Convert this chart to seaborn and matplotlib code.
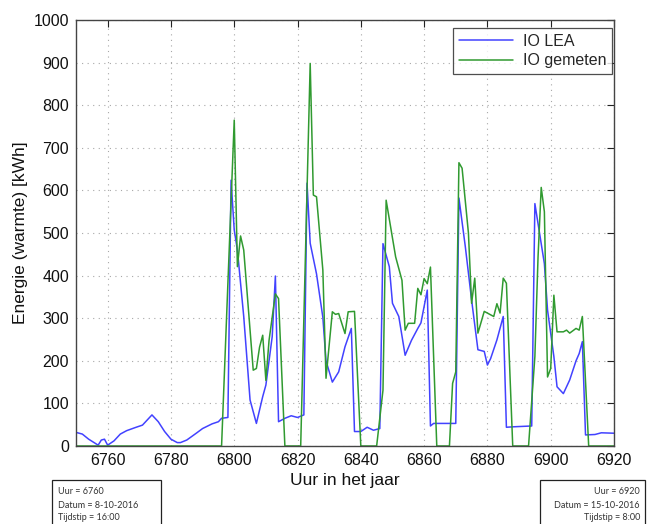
import numpy as np
import pandas as pd
import matplotlib
matplotlib.use("Agg")
import matplotlib.pyplot as plt
import seaborn as sns

# ---- data ----
lea_hours = [6750, 6752, 6754, 6757, 6758, 6759, 6760, 6762, 6764, 6766, 6769, 6771, 6774, 6776,
             6778, 6780, 6782, 6783, 6785, 6788, 6790, 6793, 6795, 6796, 6798,
             6799, 6800, 6801, 6803, 6805, 6807, 6809, 6810, 6812, 6813, 6814, 6816, 6818, 6820, 6822,
             6823, 6824, 6826, 6828, 6829, 6831, 6833, 6835, 6837, 6838, 6840, 6842, 6844, 6846,
             6847, 6849, 6850, 6852, 6854, 6856, 6858, 6859, 6861, 6862, 6863, 6870,
             6871, 6873, 6875, 6877, 6879, 6880, 6881, 6883, 6885, 6886, 6888, 6894,
             6895, 6897, 6898, 6899, 6901, 6902, 6904, 6906, 6908, 6909, 6910, 6911, 6914, 6916, 6920]
lea_values = [32, 28, 16, 2, 14, 16, 2, 12, 28, 36, 44, 49, 73, 57,
              34, 16, 8, 8, 14, 30, 41, 52, 57, 65, 67,
              624, 507, 460, 304, 108, 53, 116, 143, 257, 399, 57, 65, 71, 67, 73,
              617, 476, 404, 302, 200, 150, 174, 233, 276, 34, 34, 44, 37, 41,
              475, 421, 335, 304, 213, 248, 276, 289, 366, 47, 53, 53,
              582, 469, 343, 226, 222, 190, 205, 249, 304, 44, 45, 47,
              569, 475, 428, 319, 210, 139, 123, 155, 200, 217, 245, 26, 27, 31, 30]

gem_hours = [6750, 6796, 6800, 6801, 6802, 6803, 6804, 6806, 6807, 6808, 6809, 6810, 6811, 6813, 6814,
             6816, 6821, 6824, 6825, 6826, 6828, 6829, 6831, 6832, 6833, 6835, 6836, 6838, 6840,
             6845, 6847, 6848, 6851, 6853, 6854, 6855, 6857, 6858, 6859, 6860, 6861, 6862, 6864,
             6868, 6869, 6870, 6871, 6872, 6874, 6875, 6876, 6877, 6879, 6881, 6882, 6883, 6884, 6885, 6886, 6888,
             6893, 6895, 6896, 6897, 6898, 6899, 6900, 6901, 6902, 6904, 6905, 6906, 6908, 6909, 6910, 6912, 6920]
gem_values = [0, 0, 765, 421, 493, 460, 366, 178, 182, 232, 260, 154, 248, 357, 346,
              0, 0, 898, 589, 585, 413, 159, 315, 309, 311, 264, 315, 316, 0,
              0, 131, 577, 444, 389, 272, 288, 288, 370, 355, 393, 381, 420, 0,
              0, 147, 174, 665, 652, 500, 335, 394, 265, 316, 308, 304, 334, 312, 394, 382, 0,
              0, 210, 444, 607, 550, 162, 182, 354, 268, 268, 272, 265, 276, 272, 304, 0, 0]

series_names = ["IO LEA", "IO gemeten"]
x_ticks = list(range(6760, 6921, 20))
y_ticks = list(range(0, 1001, 100))

left_note = ["Uur = 6760", "Datum = 8-10-2016", "Tijdstip = 16:00"]
right_note = ["Uur = 6920", "Datum = 15-10-2016", "Tijdstip = 8:00"]

# ---- build table ----
df = pd.concat([
    pd.DataFrame({"uur": lea_hours, "energie": lea_values, "reeks": series_names[0]}),
    pd.DataFrame({"uur": gem_hours, "energie": gem_values, "reeks": series_names[1]}),
], ignore_index=True)

sns.set_style("white")
plt.rcParams["font.family"] = ["Liberation Sans", "DejaVu Sans"]

fig = plt.figure(figsize=(6.47, 5.24), dpi=100)
ax = fig.add_axes([76 / 647, 78 / 524, 538 / 647, 426 / 524])

palette = {series_names[0]: "#4242ff", series_names[1]: "#309a30"}
sns.lineplot(data=df, x="uur", y="energie", hue="reeks", palette=palette,
             sort=False, estimator=None, linewidth=1.1, ax=ax)

ax.set_xlim(6750, 6920)
ax.set_ylim(0, 1000)
ax.set_xticks(x_ticks)
ax.set_yticks(y_ticks)
ax.grid(True, linestyle=(0, (1, 4)), color="#a8a8a8", linewidth=0.8)
ax.tick_params(direction="in", length=5, width=0.8, top=True, right=True,
               labelsize=11.5, colors="#222222", pad=5)
ax.tick_params(axis="both", labelcolor="#111111")
for s in ax.spines.values():
    s.set_color("#444444")
    s.set_linewidth(1.0)
    s.set_visible(True)

ax.set_xlabel("Uur in het jaar", fontsize=12.5, color="#111111", labelpad=4)
ax.set_ylabel("Energie (warmte) [kWh]", fontsize=12.5, color="#111111", labelpad=4)

leg = ax.legend(loc="upper right", bbox_to_anchor=(0.996, 0.981), fontsize=11.5,
                frameon=True, fancybox=False, edgecolor="#222222", handlelength=3.4,
                borderpad=0.35, labelspacing=0.3, handletextpad=0.6, borderaxespad=0.0)
leg.get_frame().set_linewidth(0.9)
leg.set_title(None)

# annotation boxes below the axes
note_font = ["Lato", "DejaVu Sans"]
fig.patches.append(plt.Rectangle((52 / 647, -0.01), 109 / 647, 44 / 524 + 0.01,
                                 transform=fig.transFigure, fill=False,
                                 edgecolor="#222222", linewidth=0.9))
fig.patches.append(plt.Rectangle((540 / 647, -0.01), 105 / 647, 44 / 524 + 0.01,
                                 transform=fig.transFigure, fill=False,
                                 edgecolor="#222222", linewidth=0.9))
for i, t in enumerate(left_note):
    fig.text(58 / 647, 1 - (492 + 13 * i) / 524, t, fontsize=6.5, family=note_font,
             color="#333333", va="center", ha="left")
for i, t in enumerate(right_note):
    fig.text(640 / 647, 1 - (492 + 13 * i) / 524, t, fontsize=6.5, family=note_font,
             color="#333333", va="center", ha="right")

fig.savefig("out.png", dpi=100)
